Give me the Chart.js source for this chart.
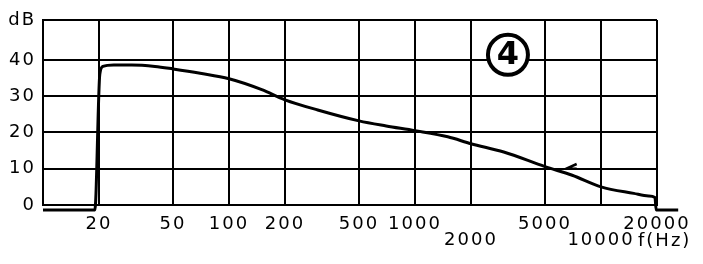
<!DOCTYPE html>
<html lang="en">
<head>
    <meta charset="UTF-8">
    <script src="https://cdn.jsdelivr.net/npm/chart.js"></script>
    <style>
        html, body { margin: 0; padding: 0; background: #fff; }
    </style>
</head>
<body>
    <canvas id="chart" width="703" height="264"></canvas>

    <script>
        // response curve (Hz, dB)
        const freqs = [10, 19, 20.2, 21, 24, 30, 40, 50, 70, 100, 150, 200, 300, 500, 700, 1000, 1500, 2000, 3000, 5000, 7000, 10000, 15000, 18000, 19500, 19800, 26000];
        const levels = [-1.4, -1.4, 36, 38.2, 38.6, 38.6, 38.2, 37.5, 36.3, 34.8, 31.8, 29, 26.2, 23.2, 21.8, 20.5, 18.8, 16.9, 14.6, 10.6, 8.2, 5, 3.2, 2.5, 2.1, -1.4, -1.4];

        // little arrow mark near 6 kHz
        const arrowFreqs = [7400, 6500, 7400];
        const arrowLevels = [11.3, 10, 10];

        const xTicks = [20, 50, 100, 200, 500, 1000, 2000, 5000, 10000, 20000];
        const lowerRowTicks = [2000, 10000];
        const yTicks = [0, 10, 20, 30, 40, 51];
        const yTopLabel = 'dB';
        const unitLabel = 'f(Hz)';
        const curveNumber = '4';

        const ink = '#000';
        const font = { family: '"DejaVu Sans", sans-serif', size: 18, lineHeight: 0.85 };

        const extras = {
            id: 'extras',
            beforeDraw(chart) {
                chart.ctx.letterSpacing = '2px';
            },
            afterDraw(chart) {
                const { ctx, chartArea, scales: { x, y } } = chart;
                ctx.save();
                // circled number
                const cx = x.getPixelForValue(3160);
                const cy = y.getPixelForValue(41.4);
                ctx.beginPath();
                ctx.arc(cx, cy, 20, 0, Math.PI * 2);
                ctx.fillStyle = '#fff';
                ctx.fill();
                ctx.lineWidth = 4;
                ctx.strokeStyle = ink;
                ctx.stroke();
                ctx.letterSpacing = '0px';
                ctx.fillStyle = ink;
                ctx.font = 'bold 32px "DejaVu Sans"';
                ctx.textAlign = 'center';
                ctx.textBaseline = 'middle';
                ctx.fillText(curveNumber, cx, cy + 1);
                // unit label next to 10000
                ctx.letterSpacing = '2px';
                ctx.font = '18px "DejaVu Sans"';
                ctx.textAlign = 'left';
                ctx.fillText(unitLabel, x.getPixelForValue(10000) + 37, chartArea.bottom + 36);
                ctx.restore();
            }
        };

        const ctx = document.getElementById('chart').getContext('2d');
        new Chart(ctx, {
            type: 'line',
            data: {
                datasets: [{
                    data: freqs.map((f, i) => ({ x: f, y: levels[i] })),
                    borderColor: ink,
                    borderWidth: 3,
                    pointRadius: 0,
                    cubicInterpolationMode: 'monotone',
                    clip: false
                }, {
                    data: arrowFreqs.map((f, i) => ({ x: f, y: arrowLevels[i] })),
                    borderColor: ink,
                    borderWidth: 2.5,
                    pointRadius: 0,
                    tension: 0
                }]
            },
            options: {
                responsive: false,
                animation: false,
                layout: { padding: { top: 20, right: 46, left: 0, bottom: 0 } },
                plugins: { legend: { display: false }, tooltip: { enabled: false } },
                scales: {
                    x: {
                        type: 'logarithmic',
                        min: 10,
                        max: 20000,
                        afterBuildTicks: s => { s.ticks = xTicks.map(v => ({ value: v })); },
                        afterFit: s => { s.height = 59; },
                        grid: { color: ink, lineWidth: 2, drawTicks: false },
                        border: { color: ink, width: 2 },
                        ticks: {
                            color: ink,
                            font: font,
                            padding: 12,
                            maxRotation: 0,
                            autoSkip: false,
                            callback: v => lowerRowTicks.includes(v) ? ['', String(v)] : String(v)
                        }
                    },
                    y: {
                        min: 0,
                        max: 51,
                        afterBuildTicks: s => { s.ticks = yTicks.map(v => ({ value: v })); },
                        afterFit: s => { s.width = 43; },
                        grid: { color: ink, lineWidth: 2, drawTicks: false },
                        border: { color: ink, width: 2 },
                        ticks: {
                            color: ink,
                            font: font,
                            padding: 7,
                            callback: v => v === 51 ? yTopLabel : String(v)
                        }
                    }
                }
            },
            plugins: [extras]
        });
    </script>
</body>
</html>
